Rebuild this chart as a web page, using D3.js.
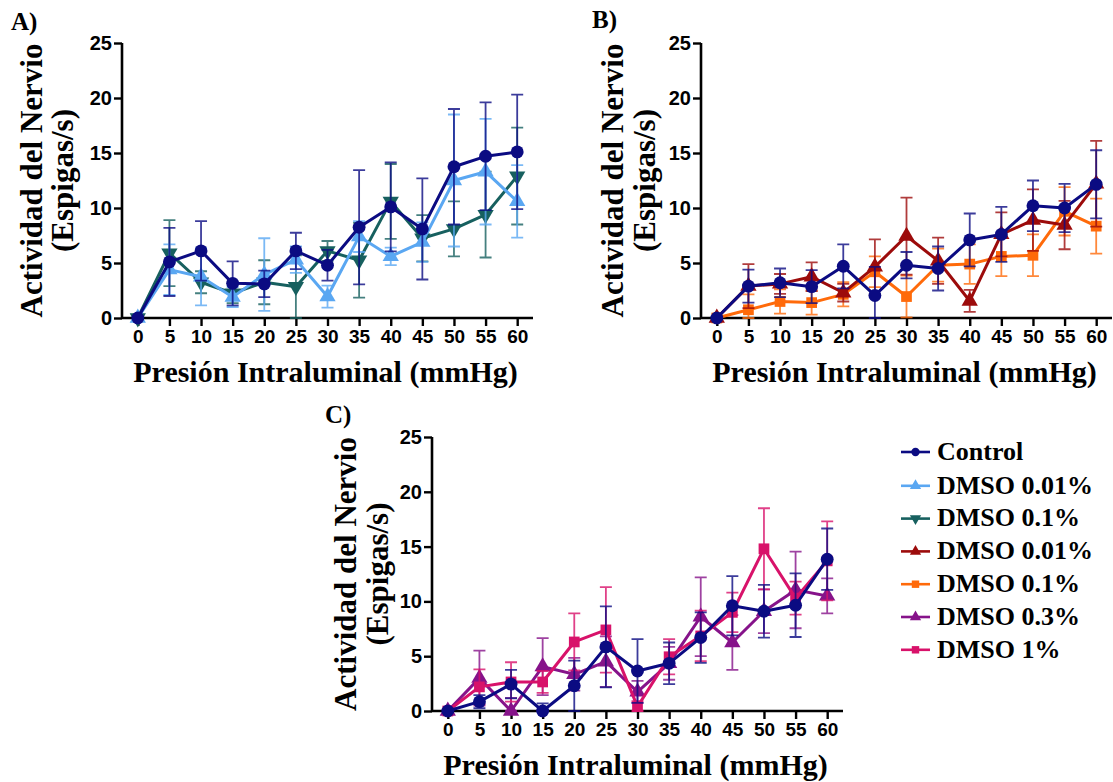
<!DOCTYPE html>
<html>
<head>
<meta charset="utf-8">
<script src="https://cdn.jsdelivr.net/npm/d3@7"></script>
<style>
  body { margin: 0; background: #fff; }
  svg { display: block; }
</style>
</head>
<body>
<div id="chart"></div>
<script>
// pressure steps (mmHg)
var pressure = [0, 5, 10, 15, 20, 25, 30, 35, 40, 45, 50, 55, 60];
var yTicks = [0, 5, 10, 15, 20, 25];

// panel A
var ctrlA     = [0, 5.1, 6.1, 3.15, 3.1, 6.1, 4.8, 8.25, 10.1, 8.1, 13.75, 14.7, 15.1];
var ctrlA_sem = [0, 3.1, 2.7, 2.0, 1.2, 1.65, 1.4, 5.2, 4.05, 4.6, 5.25, 4.9, 5.2];
var d001A     = [0, 4.4, 3.75, 1.9, 3.95, 5.3, 1.95, 7.4, 5.6, 6.9, 12.5, 13.3, 10.6];
var d001A_sem = [0, 2.3, 2.6, 0.9, 3.3, 1.2, 1.0, 1.4, 0.8, 1.8, 6.0, 4.8, 3.3];
var d01A      = [0, 5.9, 3.25, 2.25, 3.25, 2.85, 6.1, 5.25, 10.6, 7.25, 8.1, 9.4, 12.9];
var d01A_sem  = [0, 3.0, 1.0, 0.9, 2.0, 2.85, 0.9, 3.4, 3.4, 2.1, 2.5, 3.9, 4.4];

// panel B
var ctrlB     = [0, 2.9, 3.2, 2.85, 4.7, 2.05, 4.8, 4.5, 7.1, 7.6, 10.2, 10.0, 12.15];
var ctrlB_sem = [0, 1.5, 1.3, 1.5, 2.0, 2.6, 1.2, 2.0, 2.4, 2.5, 2.3, 2.2, 3.1];
var d001B     = [0, 2.9, 3.1, 3.75, 2.3, 4.65, 7.45, 5.2, 1.55, 7.6, 8.9, 8.45, 12.2];
var d001B_sem = [0, 2.0, 0.9, 1.3, 0.8, 2.5, 3.5, 2.1, 1.0, 2.0, 2.8, 2.2, 3.9];
var d01B      = [0, 0.75, 1.5, 1.4, 2.15, 4.2, 1.95, 4.8, 4.9, 5.6, 5.7, 9.7, 8.35];
var d01B_sem  = [0, 1.4, 1.1, 1.1, 1.1, 1.4, 1.9, 1.5, 1.8, 1.8, 1.9, 2.2, 2.5];

// panel C
var ctrlC     = [0, 0.85, 2.45, 0, 2.3, 5.85, 3.65, 4.35, 6.7, 9.6, 9.1, 9.65, 13.85];
var ctrlC_sem = [0, 0.6, 1.3, 0.7, 2.3, 3.7, 2.9, 1.9, 2.3, 2.7, 2.4, 2.9, 2.8];
var d03C      = [0, 3.0, 0, 4.05, 3.35, 4.5, 1.75, 4.35, 8.6, 6.25, 9.1, 11.05, 10.5];
var d03C_sem  = [0, 2.5, 1.2, 2.6, 1.5, 2.3, 1.0, 1.5, 3.6, 2.5, 2.0, 3.5, 1.6];
var d1C       = [0, 2.2, 2.65, 2.65, 6.3, 7.4, 0.4, 4.95, 6.85, 9.0, 14.8, 10.3, 13.7];
var d1C_sem   = [0, 1.6, 1.8, 1.0, 2.6, 3.9, 0.5, 1.6, 2.3, 1.8, 3.7, 1.5, 3.6];

var legendNames  = ["Control", "DMSO 0.01%", "DMSO 0.1%", "DMSO 0.01%", "DMSO 0.1%", "DMSO 0.3%", "DMSO 1%"];
var legendColors = ["#0b0b82", "#5aa7f2", "#17605f", "#9c0b0b", "#ff6a0a", "#86138a", "#d8126a"];
var legendShapes = ["circle", "triUp", "triDown", "triUp", "square", "triUp", "square"];

var serif = "'Liberation Serif','Times New Roman',serif";
var sans = "'Liberation Sans',Arial,sans-serif";

var svg = d3.select("#chart").append("svg")
  .attr("width", 1113).attr("height", 782);

function symbolPath(shape, size) {
  var t = shape == "circle" ? d3.symbolCircle : shape == "square" ? d3.symbolSquare : d3.symbolTriangle;
  return d3.symbol().type(t).size(size)();
}

function drawPanel(cfg) {
  var x = d3.scaleLinear().domain([-2.5, 62.5]).range(cfg.xr);
  var y = d3.scaleLinear().domain([0, 25]).range(cfg.yr);
  var g = svg.append("g");

  // axes
  var xAxis = g.append("g").attr("transform", "translate(0," + cfg.yr[0] + ")")
    .call(d3.axisBottom(x).tickValues(pressure).tickSize(8).tickPadding(4));
  var yAxis = g.append("g").attr("transform", "translate(" + cfg.xr[0] + ",0)")
    .call(d3.axisLeft(y).tickValues(yTicks).tickSize(8).tickPadding(2));
  [xAxis, yAxis].forEach(function (a) {
    a.select(".domain").attr("stroke", "#000").attr("stroke-width", 2.6)
      .attr("d", a === xAxis ? "M" + cfg.xr[0] + ",0H" + cfg.xr[1] : "M0," + cfg.yr[0] + "V" + cfg.yr[1]);
    a.selectAll(".tick line").attr("stroke", "#000").attr("stroke-width", 2.4);
    a.selectAll(".tick text").attr("fill", "#000").style("font-family", sans).style("font-weight", "bold");
  });
  xAxis.selectAll(".tick text").style("font-size", "19px");
  yAxis.selectAll(".tick text").style("font-size", "20px");

  // titles
  g.append("text").attr("x", (cfg.xr[0] + cfg.xr[1]) / 2 - 2).attr("y", cfg.yr[0] + 64)
    .attr("text-anchor", "middle").style("font-family", serif).style("font-weight", "bold")
    .style("font-size", "30px").text("Presión Intraluminal (mmHg)");
  var cy = (cfg.yr[0] + cfg.yr[1]) / 2;
  [["Actividad del Nervio", cfg.tx[0]], ["(Espigas/s)", cfg.tx[1]]].forEach(function (t) {
    g.append("text").attr("transform", "translate(" + t[1] + "," + cy + ") rotate(-90)")
      .attr("text-anchor", "middle").attr("dy", "0.35em")
      .style("font-family", serif).style("font-weight", "bold").style("font-size", "31px")
      .text(t[0]);
  });
  g.append("text").attr("x", cfg.label[0]).attr("y", cfg.label[1])
    .style("font-family", serif).style("font-weight", "bold").style("font-size", "25px")
    .text(cfg.name);

  var line = d3.line().x(function (d, i) { return x(pressure[i]); }).y(function (d) { return y(d); });

  cfg.series.forEach(function (s) {
    var sg = g.append("g");
    // error bars
    s.vals.forEach(function (v, i) {
      if (!s.sem[i]) return;
      var xx = x(pressure[i]), lo = Math.max(0, v - s.sem[i]), hi = v + s.sem[i];
      sg.append("path")
        .attr("d", "M" + xx + "," + y(lo) + "V" + y(hi) +
          "M" + (xx - 6) + "," + y(hi) + "H" + (xx + 6) +
          "M" + (xx - 6) + "," + y(lo) + "H" + (xx + 6))
        .attr("fill", "none").attr("stroke", s.color).attr("stroke-width", 1.8).attr("opacity", 0.8);
    });
    sg.append("path").datum(s.vals).attr("d", line)
      .attr("fill", "none").attr("stroke", s.color).attr("stroke-width", 3)
      .attr("stroke-linejoin", "round");
    sg.selectAll(".m").data(s.vals).enter().append("path")
      .attr("d", symbolPath(s.shape, s.shape == "circle" ? 130 : 115))
      .attr("transform", function (d, i) {
        return "translate(" + x(pressure[i]) + "," + y(d) + ")" + (s.shape == "triDown" ? " rotate(180)" : "");
      })
      .attr("fill", s.color);
  });
}

drawPanel({
  name: "A)", label: [11, 30], xr: [122, 533], yr: [318, 43], tx: [31, 62],
  series: [
    { vals: d01A, sem: d01A_sem, color: legendColors[2], shape: legendShapes[2] },
    { vals: d001A, sem: d001A_sem, color: legendColors[1], shape: legendShapes[1] },
    { vals: ctrlA, sem: ctrlA_sem, color: legendColors[0], shape: legendShapes[0] }
  ]
});
drawPanel({
  name: "B)", label: [592, 28], xr: [701, 1112], yr: [318, 43], tx: [612, 644],
  series: [
    { vals: d01B, sem: d01B_sem, color: legendColors[4], shape: legendShapes[4] },
    { vals: d001B, sem: d001B_sem, color: legendColors[3], shape: legendShapes[3] },
    { vals: ctrlB, sem: ctrlB_sem, color: legendColors[0], shape: legendShapes[0] }
  ]
});
drawPanel({
  name: "C)", label: [325, 423], xr: [432, 843], yr: [711, 437], tx: [345, 377],
  series: [
    { vals: d03C, sem: d03C_sem, color: legendColors[5], shape: legendShapes[5] },
    { vals: d1C, sem: d1C_sem, color: legendColors[6], shape: legendShapes[6] },
    { vals: ctrlC, sem: ctrlC_sem, color: legendColors[0], shape: legendShapes[0] }
  ]
});

// legend
var leg = svg.append("g");
legendNames.forEach(function (n, i) {
  var ly = 452 + i * 32.8 + (i > 0 ? 1 : 0);
  var c = legendColors[i];
  leg.append("line").attr("x1", 901).attr("x2", 930).attr("y1", ly).attr("y2", ly)
    .attr("stroke", c).attr("stroke-width", 2.6);
  leg.append("path").attr("d", symbolPath(legendShapes[i], 55))
    .attr("transform", "translate(915.5," + ly + ")" + (legendShapes[i] == "triDown" ? " rotate(180)" : ""))
    .attr("fill", c);
  leg.append("text").attr("x", 937).attr("y", ly).attr("dy", "0.3em")
    .style("font-family", serif).style("font-weight", "bold").style("font-size", "26px")
    .text(n);
});
</script>
</body>
</html>
